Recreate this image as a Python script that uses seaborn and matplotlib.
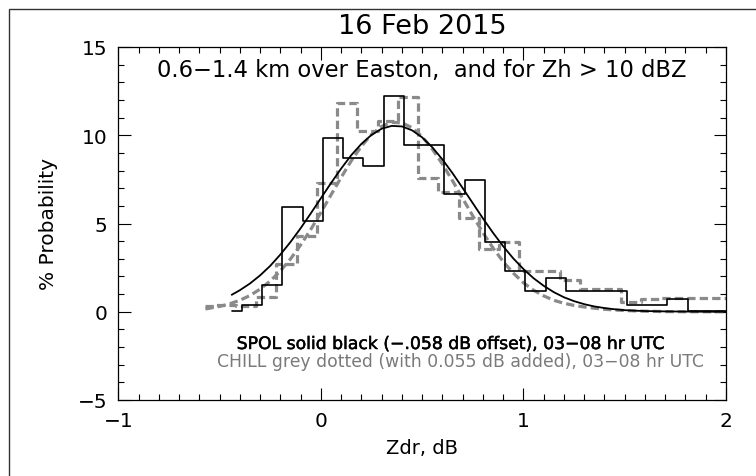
import matplotlib
matplotlib.use("Agg")
import matplotlib.pyplot as plt
import matplotlib.patches as mpatches
import matplotlib.patheffects as pe
import seaborn as sns
import pandas as pd

# ---- data ----
# SPOL histogram (bin centres, % probability) - solid black
spol_x = [-0.44, -0.34, -0.24, -0.14, -0.04, 0.06, 0.16, 0.26, 0.36, 0.46,
          0.56, 0.66, 0.76, 0.86, 0.96, 1.06, 1.16, 1.26, 1.36, 1.46,
          1.56, 1.66, 1.76, 1.86, 1.96, 2.06]
spol_p = [0.05, 0.38, 1.51, 5.92, 5.12, 9.82, 8.69, 8.24, 12.2, 9.44,
          9.44, 6.67, 7.48, 3.97, 2.33, 1.19, 1.93, 1.19, 1.19, 1.19,
          0.38, 0.38, 0.74, 0.05, 0.05, 0.05]

# CHILL histogram - grey dashed
chill_x = [-0.57, -0.47, -0.37, -0.27, -0.17, -0.07, 0.03, 0.13, 0.23, 0.33,
           0.43, 0.53, 0.63, 0.73, 0.83, 0.93, 1.03, 1.13, 1.23, 1.33,
           1.43, 1.53, 1.63, 1.73, 1.83, 1.93, 2.03]
chill_p = [0.30, 0.40, 0.35, 0.82, 2.70, 4.30, 7.30, 11.8, 10.25, 10.8,
           12.15, 7.56, 6.80, 5.30, 3.55, 3.93, 2.32, 2.32, 1.80, 1.30,
           1.30, 0.55, 0.72, 0.78, 0.76, 0.76, 0.76]

# fitted curves
spol_fit_x = [-0.44, -0.40, -0.35, -0.30, -0.25, -0.20, -0.15, -0.10, -0.05, 0.00,
              0.05, 0.10, 0.15, 0.20, 0.25, 0.30, 0.35, 0.40, 0.45, 0.50,
              0.55, 0.60, 0.65, 0.70, 0.75, 0.80, 0.85, 0.90, 0.95, 1.00,
              1.05, 1.10, 1.15, 1.20, 1.25, 1.30, 1.35, 1.40, 1.45, 1.50,
              1.55, 1.60, 1.70, 1.80, 1.90, 2.00]
spol_fit_p = [0.96, 1.22, 1.60, 2.06, 2.60, 3.24, 3.95, 4.73, 5.57, 6.43,
              7.29, 8.11, 8.87, 9.51, 10.02, 10.37, 10.53, 10.50, 10.28, 9.88,
              9.32, 8.63, 7.85, 7.01, 6.15, 5.29, 4.47, 3.71, 3.02, 2.42,
              1.90, 1.47, 1.11, 0.82, 0.60, 0.43, 0.30, 0.21, 0.14, 0.09,
              0.06, 0.04, 0.02, 0.01, 0.00, 0.00]

chill_fit_x = [-0.57, -0.50, -0.45, -0.40, -0.35, -0.30, -0.25, -0.20, -0.15, -0.10,
               -0.05, 0.00, 0.05, 0.10, 0.15, 0.20, 0.25, 0.30, 0.35, 0.40,
               0.45, 0.50, 0.55, 0.60, 0.65, 0.70, 0.75, 0.80, 0.85, 0.90,
               0.95, 1.00, 1.05, 1.10, 1.15, 1.20, 1.25, 1.30, 1.35, 1.40,
               1.45, 1.50, 1.60, 1.70, 1.80, 2.00]
chill_fit_p = [0.16, 0.30, 0.45, 0.65, 0.92, 1.28, 1.74, 2.31, 2.99, 3.78,
               4.66, 5.62, 6.62, 7.61, 8.55, 9.38, 10.04, 10.50, 10.73, 10.70,
               10.43, 9.92, 9.22, 8.37, 7.42, 6.42, 5.43, 4.48, 3.61, 2.84,
               2.19, 1.64, 1.22, 0.90, 0.65, 0.48, 0.36, 0.27, 0.20, 0.14,
               0.10, 0.07, 0.03, 0.01, 0.00, 0.00]

title = "16 Feb 2015"
subtitle = "0.6\u22121.4 km over Easton,  and for Zh > 10 dBZ"
spol_label = "SPOL solid black (\u2212.058 dB offset), 03\u221208 hr UTC"
chill_label = "CHILL grey dotted (with 0.055 dB added), 03\u221208 hr UTC"
xlabel = "Zdr, dB"
ylabel = "% Probability"
xticks = [-1, 0, 1, 2]
yticks = [-5, 0, 5, 10, 15]

# ---- style ----
sns.set_style("ticks")
plt.rcParams["font.family"] = ["DejaVu Sans"]
plt.rcParams["text.color"] = "black"
plt.rcParams["axes.labelcolor"] = "black"
plt.rcParams["xtick.color"] = "black"
plt.rcParams["ytick.color"] = "black"

W, H = 756, 477
fig = plt.figure(figsize=(W / 100, H / 100), dpi=100)
ax = fig.add_axes([118.3 / W, 1 - 401 / H, (726 - 118.3) / W, (401 - 48) / H])

grey = "#8a8a8a"
dash = (2.6, 1.3)

df_ch = pd.DataFrame({"x": chill_x, "p": chill_p})
df_chf = pd.DataFrame({"x": chill_fit_x, "p": chill_fit_p})
df_sp = pd.DataFrame({"x": spol_x, "p": spol_p})
df_spf = pd.DataFrame({"x": spol_fit_x, "p": spol_fit_p})

sns.lineplot(data=df_ch, x="x", y="p", ax=ax, color=grey, lw=2.3,
             drawstyle="steps-mid", linestyle=(0, dash), legend=False)
sns.lineplot(data=df_chf, x="x", y="p", ax=ax, color=grey, lw=2.3,
             linestyle=(0, dash), legend=False)
sns.lineplot(data=df_sp, x="x", y="p", ax=ax, color="black", lw=1.2,
             drawstyle="steps-mid", legend=False)
sns.lineplot(data=df_spf, x="x", y="p", ax=ax, color="black", lw=1.3,
             legend=False)

ax.set_xlim(-1, 2)
ax.set_ylim(-5, 15)
ax.set_xticks(xticks)
ax.set_yticks(yticks)
ax.set_xticklabels([str(t).replace("-", "\u2212") for t in xticks])
ax.set_yticklabels([str(t).replace("-", "\u2212") for t in yticks])
ax.xaxis.set_minor_locator(matplotlib.ticker.MultipleLocator(0.1))
ax.yaxis.set_minor_locator(matplotlib.ticker.MultipleLocator(1))
ax.tick_params(which="both", direction="in", top=True, right=True,
               color="black", width=0.8, labelcolor="black")
ax.tick_params(which="major", length=9, labelsize=14.5, pad=8)
ax.tick_params(which="minor", length=4.5)
for s in ax.spines.values():
    s.set_linewidth(0.9)
    s.set_color("black")

ax.set_xlabel(xlabel, fontsize=14, labelpad=6, color="black")
ax.set_ylabel(ylabel, fontsize=14.5, labelpad=14, color="black")
ax.set_title(title, fontsize=19.5, pad=10, color="black")

ax.text(0.5, 0.937, subtitle, transform=ax.transAxes, ha="center", va="center",
        fontsize=16.3, color="black")
ax.text(236.7 / W, 1 - 345 / H, spol_label, transform=fig.transFigure,
        ha="left", va="center", fontsize=12.4, color="black",
        path_effects=[pe.withStroke(linewidth=0.35, foreground="black")])
ax.text(217 / W, 1 - 362 / H, chill_label, transform=fig.transFigure,
        ha="left", va="center", fontsize=12.4, color="#7a7a7a")

# outer frame (left/top edges visible in the reference)
fig.patches.append(mpatches.Rectangle((9 / W, -0.1), 1.2, 1 - 10 / H + 0.1,
                                      transform=fig.transFigure, fill=False,
                                      edgecolor="#333333", lw=1.0))

fig.savefig("out.png", dpi=100)
